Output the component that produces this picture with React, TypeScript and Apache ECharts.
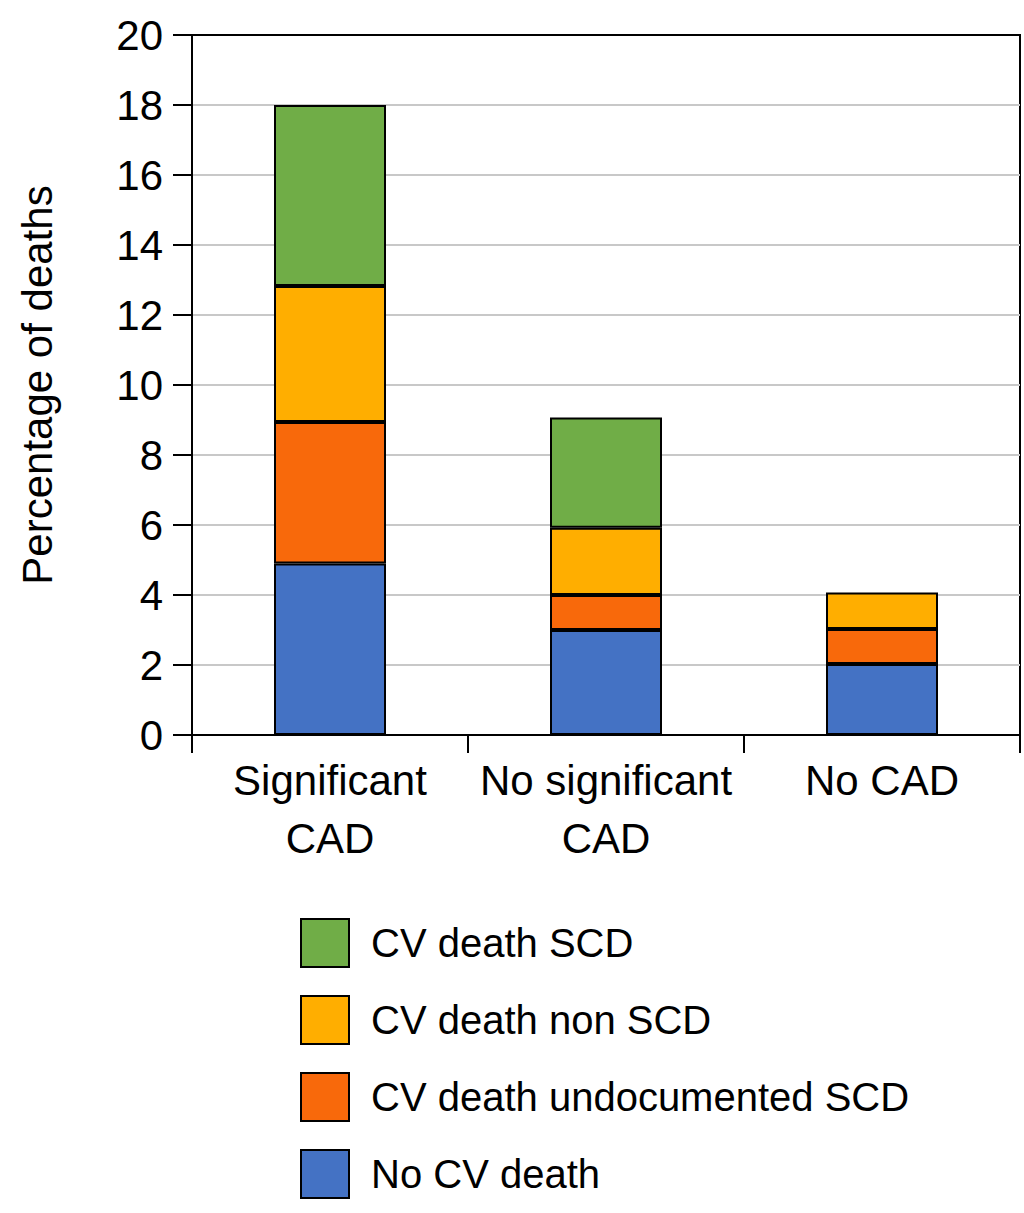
import React, { useEffect, useRef } from "react";
import * as echarts from "echarts";

const categories = ["Significant\nCAD", "No significant\nCAD", "No CAD"];
const yTicks = { min: 0, max: 20, interval: 2 };

const noCvDeath = [4.9, 3.0, 2.03];
const cvUndocumentedScd = [4.04, 1.0, 1.0];
const cvNonScd = [3.89, 1.92, 1.04];
const cvScd = [5.17, 3.15, 0];

const seriesDefs = [
  { name: "No CV death", values: noCvDeath, color: "#4472C4" },
  { name: "CV death undocumented SCD", values: cvUndocumentedScd, color: "#F8690B" },
  { name: "CV death non SCD", values: cvNonScd, color: "#FFAE00" },
  { name: "CV death SCD", values: cvScd, color: "#70AD47" },
];

const legendOrder = ["CV death SCD", "CV death non SCD", "CV death undocumented SCD", "No CV death"];

const FONT = "'Liberation Sans', Arial, Helvetica, sans-serif";

export default function App() {
  const ref = useRef<HTMLDivElement>(null);
  useEffect(() => {
    if (!ref.current) return;
    const chart = echarts.init(ref.current, undefined, { renderer: "svg" });
    chart.setOption({
      animation: false,
      backgroundColor: "#fff",
      textStyle: { fontFamily: FONT, color: "#000" },
      grid: {
        left: 192,
        right: 4,
        top: 35,
        bottom: 478,
        containLabel: false,
        outerBoundsMode: "none",
        show: true,
        borderColor: "#000",
        borderWidth: 2,
        backgroundColor: "transparent",
      },
      legend: {
        orient: "vertical",
        left: 300,
        top: 918,
        bottom: 0,
        padding: 0,
        itemWidth: 48,
        itemHeight: 48,
        itemGap: 27,
        icon: "rect",
        data: legendOrder,
        itemStyle: { borderColor: "#000", borderWidth: 2 },
        textStyle: { fontSize: 40, fontFamily: FONT, color: "#000", padding: [0, 0, 0, 17] },
      },
      xAxis: {
        type: "category",
        data: categories,
        axisLine: { show: true, lineStyle: { color: "#000", width: 2 } },
        axisTick: { show: true, length: 18, interval: 0, lineStyle: { color: "#000", width: 2 } },
        axisLabel: {
          fontSize: 42,
          lineHeight: 58,
          margin: 16,
          color: "#000",
          fontFamily: FONT,
          interval: 0,
        },
        splitLine: { show: false },
      },
      yAxis: {
        type: "value",
        min: yTicks.min,
        max: yTicks.max,
        interval: yTicks.interval,
        name: "Percentage of deaths",
        nameLocation: "middle",
        nameGap: 134,
        nameRotate: 90,
        nameTextStyle: { fontSize: 42, color: "#000", fontFamily: FONT },
        axisLine: { show: true, lineStyle: { color: "#000", width: 2 } },
        axisTick: { show: true, length: 19, lineStyle: { color: "#000", width: 2 } },
        axisLabel: { fontSize: 42, margin: 29, color: "#000", fontFamily: FONT },
        splitLine: {
          show: true,
          showMinLine: false,
          showMaxLine: false,
          lineStyle: { color: "#c8c8c8", width: 2 },
        },
      },
      series: seriesDefs.map((s) => ({
        name: s.name,
        type: "bar",
        stack: "total",
        barWidth: 112,
        data: s.values.map((v) => (v === 0 ? "-" : v)),
        itemStyle: { color: s.color, borderColor: "#000", borderWidth: 2 },
      })),
    });
    return () => chart.dispose();
  }, []);
  return (
    <div
      ref={ref}
      style={{ position: "absolute", left: 0, top: 0, width: 1024, height: 1213 }}
    />
  );
}
